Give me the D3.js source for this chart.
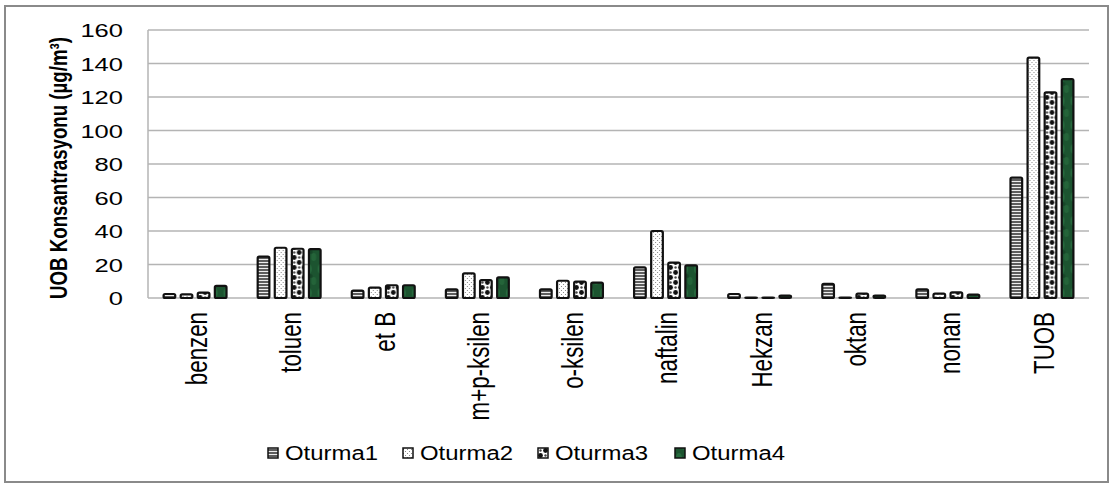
<!DOCTYPE html>
<html><head><meta charset="utf-8">
<script src="https://cdn.jsdelivr.net/npm/d3@7"></script>
<style>body{margin:0;background:#fff;} svg{display:block;font-family:"Liberation Sans",Arial,sans-serif;}</style>
</head><body>
<svg id="c" width="1113" height="484"></svg>
<script>
const categories = ["benzen","toluen","et B","m+p-ksilen","o-ksilen","naftalin","Hekzan","oktan","nonan","TUOB"];
const seriesNames = ["Oturma1","Oturma2","Oturma3","Oturma4"];
const oturma1 = [2.4, 24.7, 4.4, 5.2, 5.2, 18.3, 2.4, 8.4, 5.2, 71.9];
const oturma2 = [2.2, 30.0, 6.2, 14.7, 10.3, 40.0, 0.3, 0.3, 2.6, 143.5];
const oturma3 = [3.2, 29.4, 7.6, 10.7, 9.8, 21.1, 0.3, 2.6, 3.4, 122.8];
const oturma4 = [7.2, 29.2, 7.6, 12.3, 9.2, 19.5, 1.4, 1.4, 2.0, 130.7];
const yTicks = [0,20,40,60,80,100,120,140,160];
const seriesValues = [oturma1, oturma2, oturma3, oturma4];

(function(){
const svg = d3.select("#c");
const defs = svg.append("defs");

// patterns
const p1 = defs.append("pattern").attr("id","p0").attr("patternUnits","userSpaceOnUse").attr("width",4).attr("height",3);
p1.append("rect").attr("width",4).attr("height",3).attr("fill","#5e5e5e");
p1.append("rect").attr("y",1).attr("width",4).attr("height",1).attr("fill","#eeeeee");

const p2 = defs.append("pattern").attr("id","p1").attr("patternUnits","userSpaceOnUse").attr("width",4).attr("height",4);
p2.append("rect").attr("width",4).attr("height",4).attr("fill","#fff");
p2.append("rect").attr("x",0).attr("y",0).attr("width",1).attr("height",1).attr("fill","#8a8a8a");
p2.append("rect").attr("x",2).attr("y",2).attr("width",1).attr("height",1).attr("fill","#8a8a8a");

const p3 = defs.append("pattern").attr("id","p2").attr("patternUnits","userSpaceOnUse").attr("width",10).attr("height",10);
p3.append("rect").attr("width",10).attr("height",10).attr("fill","#fff");
p3.append("circle").attr("cx",2.5).attr("cy",2.5).attr("r",2.4).attr("fill","#111");
p3.append("circle").attr("cx",7.5).attr("cy",7.5).attr("r",2.4).attr("fill","#111");
p3.append("circle").attr("cx",7.5).attr("cy",2.5).attr("r",1.2).attr("fill","#444");
p3.append("circle").attr("cx",2.5).attr("cy",7.5).attr("r",1.2).attr("fill","#444");

const p4 = defs.append("pattern").attr("id","p3").attr("patternUnits","userSpaceOnUse").attr("width",12).attr("height",24);
p4.append("rect").attr("width",12).attr("height",24).attr("fill","#1c5430");
p4.append("ellipse").attr("cx",4).attr("cy",5).attr("rx",3).attr("ry",5).attr("fill","#2f7a47").attr("opacity",0.6);
p4.append("ellipse").attr("cx",9).attr("cy",17).attr("rx",2.5).attr("ry",4).attr("fill","#2a6e40").attr("opacity",0.6);
p4.append("ellipse").attr("cx",6).attr("cy",12).attr("rx",2).attr("ry",2).attr("fill","#143f23").attr("opacity",0.7);

// frame
svg.append("rect").attr("x",5).attr("y",6).attr("width",1103).attr("height",476)
  .attr("fill","#fff").attr("stroke","#8a8a8a").attr("stroke-width",2);

const pl = 148, pr = 1089, pt = 30, pb = 298;
const x0 = d3.scaleBand().domain(categories).range([pl,pr]).paddingInner(0.31).paddingOuter(0.155);
const x1 = d3.scaleBand().domain(seriesNames).range([0,x0.bandwidth()]).paddingInner(0.2).paddingOuter(0);
const y = d3.scaleLinear().domain([0,160]).range([pb,pt]);

// gridlines
svg.append("g").selectAll("line").data(yTicks).join("line")
  .attr("x1",pl).attr("x2",pr).attr("y1",d=>y(d)).attr("y2",d=>y(d))
  .attr("stroke","#b4b4b4").attr("stroke-width",1.5);
svg.append("line").attr("x1",pl).attr("x2",pl).attr("y1",pt).attr("y2",pb)
  .attr("stroke","#b4b4b4").attr("stroke-width",1.5);

// y axis labels
const yAxis = d3.axisLeft(y).tickValues(yTicks).tickSize(0).tickPadding(0);
const ga = svg.append("g").attr("transform",`translate(123,0)`).call(yAxis);
ga.select(".domain").remove();
ga.selectAll("text").attr("font-size",18.5).attr("fill","#000").attr("font-family","Liberation Sans, Arial")
  .attr("x",0).attr("dy","0.36em").attr("transform","scale(1.38,1)");

// bars
const groups = svg.append("g").selectAll("g").data(categories).join("g")
  .attr("transform",d=>`translate(${x0(d)},0)`);
groups.selectAll("rect").data((d,i)=>seriesNames.map((s,j)=>({s,j,v:seriesValues[j][i]}))).join("rect")
  .attr("x",d=>x1(d.s)+1).attr("width",x1.bandwidth()-2)
  .attr("y",d=>y(d.v)).attr("height",d=>Math.max(0,y(0)-y(d.v)))
  .attr("fill",d=>`url(#p${d.j})`).attr("stroke","#111").attr("stroke-width",2.2).attr("rx",1.5);

// x axis labels
const xAxis = d3.axisBottom(x0).tickSize(0).tickPadding(0);
const gx = svg.append("g").attr("transform",`translate(0,${pb})`).call(xAxis);
gx.select(".domain").remove();
gx.selectAll(".tick").attr("transform",d=>`translate(${x0(d)+x0.bandwidth()/2+1.5},${pb+14})`);
gx.attr("transform",null);
gx.selectAll("text").attr("font-size",22.3).attr("fill","#000").attr("font-family","Liberation Sans, Arial")
  .attr("text-anchor","end").attr("x",0).attr("y",0).attr("dy","0.36em")
  .attr("transform","rotate(-90) scale(1,1.3)");

// y title
svg.append("text").attr("transform",`translate(58,${(pt+pb)/2+4}) rotate(-90) scale(1,1.27)`)
  .attr("text-anchor","middle").attr("font-weight","bold").attr("font-size",18.7)
  .attr("dy","0.36em").text("UOB Konsantrasyonu (µg/m³)");

// legend
const legX = [268,403,538,675];
const leg = svg.append("g").selectAll("g").data(seriesNames).join("g")
  .attr("transform",(d,i)=>`translate(${legX[i]},453)`);
leg.append("rect").attr("x",0).attr("y",-5).attr("width",10).attr("height",10)
  .attr("fill",(d,i)=>`url(#p${i})`).attr("stroke","#111").attr("stroke-width",1.5);
leg.append("text").attr("x",17).attr("dy","0.36em").attr("font-size",20)
  .attr("textLength",93).attr("lengthAdjust","spacingAndGlyphs").text(d=>d);
})();
</script>
</body></html>
